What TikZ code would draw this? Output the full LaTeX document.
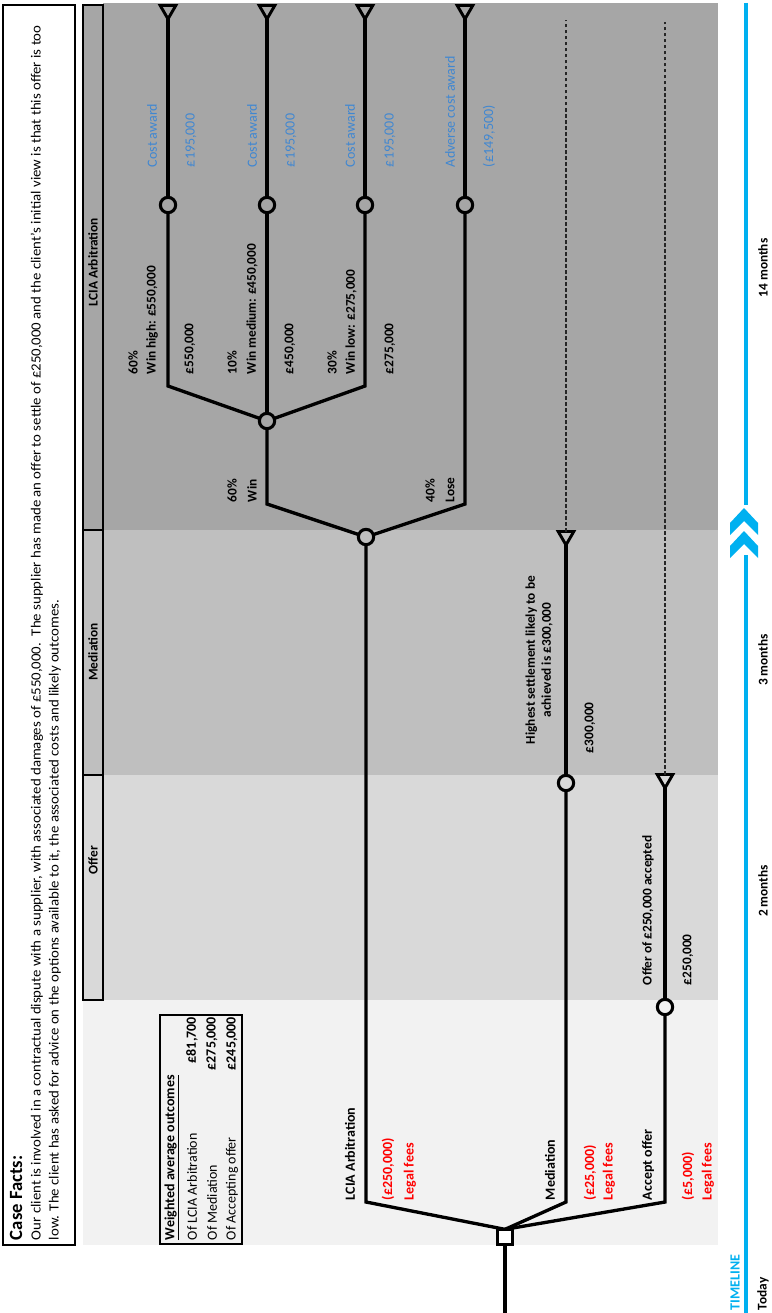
\documentclass[tikz,border=0pt]{standalone}
\usepackage{fontspec}
\setmainfont{Carlito}
\usepackage{graphicx}
\usetikzlibrary{shapes.geometric}
\definecolor{bandA}{HTML}{A6A6A6}
\definecolor{bandB}{HTML}{BFBFBF}
\definecolor{bandC}{HTML}{D9D9D9}
\definecolor{bandD}{HTML}{F2F2F2}
\definecolor{costblue}{HTML}{3F87D2}
\definecolor{feered}{HTML}{FF0000}
\definecolor{tlblue}{HTML}{00B0F0}
\begin{document}
\begin{tikzpicture}[x=0.75pt,y=-0.75pt,
  every node/.style={inner sep=0pt, outer sep=0pt},
  lb/.style={rotate=90, anchor=west, font=\fontsize{10}{12}\selectfont\bfseries},
  lbc/.style={rotate=90, anchor=center, font=\fontsize{10}{12}\selectfont\bfseries},
  blu/.style={rotate=90, anchor=west, text=costblue, font=\fontsize{10.5}{12}\selectfont},
  fee/.style={rotate=90, anchor=west, text=feered, font=\fontsize{10.5}{12}\selectfont\bfseries},
  opt/.style={rotate=90, anchor=west, font=\fontsize{10.5}{12}\selectfont\bfseries},
  tbl/.style={rotate=90, anchor=west, font=\fontsize{10.5}{12}\selectfont},
  tblv/.style={rotate=90, anchor=east, font=\fontsize{10.5}{12}\selectfont\bfseries},
  conn/.style={line width=2.5pt},
  chance/.style={circle, draw, line width=2.3pt, minimum size=11.5pt},
  term/.style={regular polygon, regular polygon sides=3, shape border rotate=180, draw, line width=2.2pt, minimum size=13.5pt},
  decis/.style={rectangle, draw, line width=2.2pt, fill=white, minimum size=11.5pt},
  hdr/.style={draw, line width=1.5pt},
  dashline/.style={line width=0.8pt, dash pattern=on 2.5pt off 2pt, black!85},
  tl/.style={line width=2.3pt, tlblue}
]
\useasboundingbox (0,0) rectangle (771,1313);
\fill[white] (0,0) rectangle (771,1313);

% background bands
\fill[bandA] (103,3) rectangle (718,530);
\fill[bandB] (103,530) rectangle (718,775);
\fill[bandC] (103,775) rectangle (718,1000);
\fill[bandD] (83,1000) rectangle (718,1245);

% header cells
\draw[hdr, fill=bandA] (83,5) rectangle (103,530);
\draw[hdr, fill=bandB] (83,530) rectangle (103,775);
\draw[hdr, fill=bandC] (83,775) rectangle (103,1000);
\node[lbc] (hA) at (93,262) {LCIA Arbitration};
\node[lbc] (hB) at (93,652) {Mediation};
\node[lbc] (hC) at (93,860) {Offer};

% case facts
\draw[line width=1.6pt] (3,5) rectangle (75,1245);
\node[rotate=90, anchor=west, font=\fontsize{14}{16}\selectfont\bfseries] (cft) at (16,1240) {Case Facts:};
\node[rotate=90, anchor=north west, font=\fontsize{10.5}{13.5}\selectfont] (cf) at (28,1240)
 {\resizebox{911pt}{\height}{\begin{tabular}{@{}l@{}}Our client is involved in a contractual dispute with a supplier, with associated damages of £550,000.\ \ The supplier has made an offer to settle of £250,000 and the client’s initial view is that this offer is too\\low. The client has asked for advice on the options available to it, the associated costs and likely outcomes.\end{tabular}}};

% weighted table
\draw[line width=1.6pt] (160,1015) rectangle (242,1244);
\node[tbl, font=\fontsize{10.5}{12}\selectfont\bfseries] (t0) at (172,1240) {\underline{Weighted average outcomes}};
\node[tbl] (t1) at (192,1240) {Of LCIA Arbitration};
\node[tbl] (t2) at (212,1240) {Of Mediation};
\node[tbl] (t3) at (232,1240) {Of Accepting offer};
\node[tblv] (v1) at (192,1017) {£81,700};
\node[tblv] (v2) at (212,1017) {£275,000};
\node[tblv] (v3) at (232,1017) {£245,000};

% timeline
\draw[tl] (746,3) -- (746,505);
\draw[tl] (746,555) -- (746,1313);
\fill[tlblue] (730,523) -- (744,508) -- (758,523) -- (758,535) -- (744,521) -- (730,535) -- cycle;
\fill[tlblue] (730,546) -- (744,531) -- (758,546) -- (758,558) -- (744,544) -- (730,558) -- cycle;
\node[lbc] (m14) at (763,268) {14 months};
\node[lbc] (m3) at (763,660) {3 months};
\node[lbc] (m2) at (763,891) {2 months};
\node[lb] (today) at (763,1310) {Today};
\node[rotate=90, anchor=west, text=tlblue, font=\fontsize{10.5}{12}\selectfont\bfseries] (tlt) at (735,1310) {TIMELINE};

% decision tree nodes
\node[decis] (root) at (505,1237) {};
\node[chance] (cL) at (366,537) {};
\node[chance] (cM) at (566,783) {};
\node[chance] (cO) at (665,1007) {};
\node[chance] (cW) at (267,421) {};
\node[chance] (cLo) at (465,205) {};
\node[chance] (cH) at (168,205) {};
\node[chance] (cMd) at (267,205) {};
\node[chance] (cLw) at (365,205) {};
\node[term] (tH) at (168,10) {};
\node[term] (tMd) at (267,10) {};
\node[term] (tLw) at (365,10) {};
\node[term] (tLo) at (465,10) {};
\node[term] (tM) at (566,536) {};
\node[term] (tO) at (665,779) {};

\coordinate (rootend) at (505,1313);
\coordinate (bL) at (366,1202);
\coordinate (bM) at (566,1202);
\coordinate (bO) at (665,1202);
\coordinate (bW) at (267,504);
\coordinate (bLo) at (465,504);
\coordinate (bH) at (168,386);
\coordinate (bLw) at (365,386);
\coordinate (dM) at (566,20);
\coordinate (dO) at (665,22);

% connectors
\draw[conn] (root.south) -- (rootend);
\draw[conn] (root.north) -- (bL) -- (cL);
\draw[conn] (root.north) -- (bM) -- (cM);
\draw[conn] (root.north) -- (bO) -- (cO);
\draw[conn] (cL) -- (bW) -- (cW);
\draw[conn] (cL) -- (bLo) -- (cLo);
\draw[conn] (cW) -- (bH) -- (cH);
\draw[conn] (cW) -- (cMd);
\draw[conn] (cW) -- (bLw) -- (cLw);
\draw[conn] (cH) -- (tH);
\draw[conn] (cMd) -- (tMd);
\draw[conn] (cLw) -- (tLw);
\draw[conn] (cLo) -- (tLo);
\draw[conn] (cM) -- (tM);
\draw[conn] (cO) -- (tO);
\draw[dashline] (tM.north) -- (dM);
\draw[dashline] (tO.north) -- (dO);

% labels LCIA
\node[lb] (p1) at (133,374) {60\%};
\node[lb] (w1) at (152,374) {Win high: £550,000};
\node[lb] (v550) at (190,374) {£550,000};
\node[lb] (p2) at (232,374) {10\%};
\node[lb] (w2) at (252,374) {Win medium: £450,000};
\node[lb] (v450) at (290,374) {£450,000};
\node[lb] (p3) at (332,374) {30\%};
\node[lb] (w3) at (351,374) {Win low: £275,000};
\node[lb] (v275) at (390,374) {£275,000};
\node[lb] (p4) at (232,502) {60\%};
\node[lb] (win) at (252,502) {Win};
\node[lb] (p5) at (430,502) {40\%};
\node[lb] (lose) at (450,502) {Lose};

\node[blu] (ca1) at (152,167) {Cost award};
\node[blu] (cv1) at (191,167) {£195,000};
\node[blu] (ca2) at (252,167) {Cost award};
\node[blu] (cv2) at (291,167) {£195,000};
\node[blu] (ca3) at (350,167) {Cost award};
\node[blu] (cv3) at (390,167) {£195,000};
\node[blu] (ca4) at (450,167) {Adverse cost award};
\node[blu] (cv4) at (489,167) {(£149,500)};

% mediation / offer labels
\node[lbc, align=center] (hs) at (539,660) {Highest settlement likely to be\\achieved is £300,000};
\node[lb] (v300) at (590,753) {£300,000};
\node[lb] (oa) at (648,985) {Offer of £250,000 accepted};
\node[lb] (v250) at (688,985) {£250,000};

% options
\node[opt] (oL) at (350,1200) {LCIA Arbitration};
\node[fee] (fL1) at (388,1200) {(£250,000)};
\node[fee] (fL2) at (410,1200) {Legal fees};
\node[opt] (oM) at (550,1200) {Mediation};
\node[fee] (fM1) at (590,1200) {(£25,000)};
\node[fee] (fM2) at (609,1200) {Legal fees};
\node[opt] (oO) at (648,1200) {Accept offer};
\node[fee] (fO1) at (688,1200) {(£5,000)};
\node[fee] (fO2) at (708,1200) {Legal fees};
\end{tikzpicture}
\end{document}
